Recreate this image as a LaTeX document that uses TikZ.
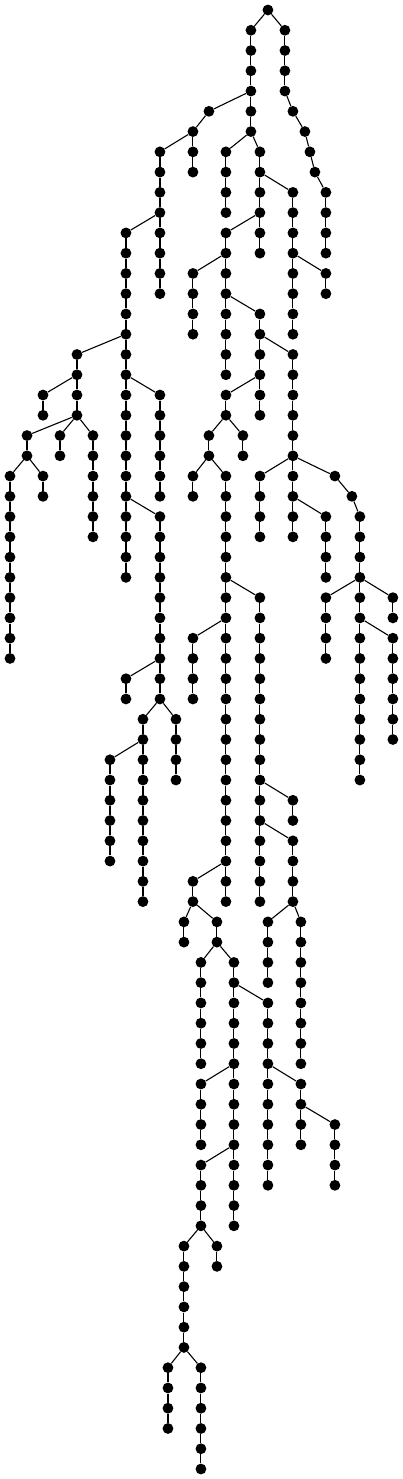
\documentclass[tikz,border=0pt]{standalone}
\tikzset{
  dot/.style={circle,fill=black,draw=none,inner sep=0pt,minimum size=10.8pt},
  link/.style={line width=1.1pt,black}
}
\newcommand\nd[2]{\node[dot] (n#1-#2) at (#1,#2) {};}
\newcommand\vchain[3]{%
  \foreach \lv in {#2,...,#3}{\node[dot] (n#1-\lv) at (#1,\lv) {};}%
  \pgfmathtruncatemacro\vcs{#2+1}%
  \foreach \lv in {\vcs,...,#3}{\pgfmathtruncatemacro\pv{\lv-1}\draw[link] (n#1-\pv) -- (n#1-\lv);}%
}
\newcommand\dedge[2]{\draw[link] (n#1) -- (n#2);}
\begin{document}
\begin{tikzpicture}[x=1pt,y=-20.27pt]
\fill[white] (0,-0.4933) rectangle (403,72.4933);
\useasboundingbox (0,-0.4933) rectangle (403,72.4933);
% nodes
\nd{268}{0}
\vchain{251}{1}{6}
\vchain{285}{1}{4}
\nd{209}{5} \nd{293}{5} \nd{305}{6} \nd{310}{7} \nd{315}{8}
\vchain{326}{9}{12}
\vchain{193}{6}{8}
\vchain{160}{7}{14}
\vchain{126}{11}{28}
\vchain{77}{17}{20}
\vchain{43}{19}{20}
\vchain{27}{21}{22}
\vchain{60}{21}{22}
\vchain{93}{21}{26}
\vchain{10}{23}{32}
\vchain{43}{23}{24}
\vchain{160}{19}{24}
\vchain{160}{25}{34}
\vchain{126}{33}{34}
\vchain{143}{35}{44}
\vchain{176}{35}{38}
\vchain{110}{37}{42}
\vchain{226}{7}{10}
\vchain{260}{7}{12}
\vchain{293}{9}{16}
\vchain{326}{13}{14}
\vchain{226}{11}{18}
\vchain{193}{13}{16}
\vchain{260}{15}{20}
\vchain{293}{17}{26}
\vchain{226}{19}{20}
\vchain{209}{21}{22}
\vchain{243}{21}{22}
\vchain{193}{23}{24}
\vchain{226}{23}{44}
\vchain{260}{29}{44}
\vchain{193}{31}{34}
\vchain{293}{39}{40}
\vchain{293}{41}{44}
\vchain{268}{45}{48}
\vchain{268}{49}{58}
\vchain{301}{45}{52}
\vchain{301}{53}{56}
\vchain{335}{55}{58}
\vchain{193}{43}{44}
\vchain{184}{45}{46}
\vchain{217}{45}{46}
\vchain{201}{47}{52}
\vchain{234}{47}{60}
\vchain{201}{53}{56}
\vchain{201}{57}{60}
\vchain{217}{61}{62}
\vchain{184}{61}{66}
\vchain{168}{67}{70}
\vchain{201}{67}{72}
\vchain{260}{23}{26}
\nd{335}{23} \nd{352}{24}
\vchain{360}{25}{38}
\vchain{326}{25}{28}
\vchain{326}{29}{32}
\vchain{393}{29}{30}
\vchain{393}{31}{36}
% branch edges
\dedge{268-0}{251-1} \dedge{268-0}{285-1}
\dedge{251-4}{209-5}
\dedge{285-4}{293-5} \dedge{293-5}{305-6} \dedge{305-6}{310-7} \dedge{310-7}{315-8} \dedge{315-8}{326-9}
\dedge{209-5}{193-6}
\dedge{193-6}{160-7}
\dedge{160-10}{126-11}
\dedge{126-16}{77-17}
\dedge{77-18}{43-19}
\dedge{77-20}{27-21} \dedge{77-20}{60-21} \dedge{77-20}{93-21}
\dedge{27-22}{10-23} \dedge{27-22}{43-23}
\dedge{126-18}{160-19}
\dedge{126-24}{160-25}
\dedge{160-32}{126-33}
\dedge{160-34}{143-35} \dedge{160-34}{176-35}
\dedge{143-36}{110-37}
\dedge{251-6}{226-7} \dedge{251-6}{260-7}
\dedge{260-8}{293-9}
\dedge{293-12}{326-13}
\dedge{260-10}{226-11}
\dedge{226-12}{193-13}
\dedge{226-14}{260-15}
\dedge{260-16}{293-17}
\dedge{260-18}{226-19}
\dedge{226-20}{209-21} \dedge{226-20}{243-21}
\dedge{209-22}{193-23} \dedge{209-22}{226-23}
\dedge{226-28}{260-29}
\dedge{226-30}{193-31}
\dedge{260-38}{293-39}
\dedge{260-40}{293-41}
\dedge{293-44}{268-45} \dedge{293-44}{301-45}
\dedge{234-48}{268-49}
\dedge{268-52}{301-53}
\dedge{301-54}{335-55}
\dedge{226-42}{193-43}
\dedge{193-44}{184-45} \dedge{193-44}{217-45}
\dedge{217-46}{201-47} \dedge{217-46}{234-47}
\dedge{234-52}{201-53}
\dedge{234-56}{201-57}
\dedge{201-60}{184-61} \dedge{201-60}{217-61}
\dedge{184-66}{168-67} \dedge{184-66}{201-67}
\dedge{293-22}{260-23} \dedge{293-22}{335-23}
\dedge{335-23}{352-24} \dedge{352-24}{360-25}
\dedge{293-24}{326-25}
\dedge{360-28}{326-29} \dedge{360-28}{393-29}
\dedge{360-30}{393-31}
\end{tikzpicture}
\end{document}
